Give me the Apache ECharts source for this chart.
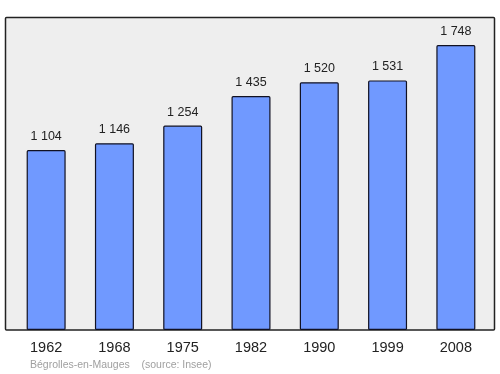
<!DOCTYPE html>
<html><head><meta charset="utf-8">
<script src="https://cdn.jsdelivr.net/npm/echarts@6/dist/echarts.min.js"></script>
<style>html,body{margin:0;padding:0;background:#fff}#c{width:500px;height:374px}</style>
</head><body><div id="c"></div>
<script>
var years = ['1962','1968','1975','1982','1990','1999','2008'];
var population = [1104,1146,1254,1435,1520,1531,1748];
var footer = 'Bégrolles-en-Mauges    (source: Insee)';

var chart = echarts.init(document.getElementById('c'), null, {renderer:'canvas'});
function fmt(v){ return String(v).replace(/\B(?=(\d{3})+(?!\d))/g, ' '); }
chart.setOption({
  animation:false,
  graphic:[
    {type:'rect', z:-10, shape:{x:5.5,y:17.5,width:489,height:312.5,r:1}, style:{fill:'#eeeeee',stroke:'#222',lineWidth:1.5}},
    {type:'text', left:30, top:360, style:{text:footer, fill:'#a0a0a0', font:'10.5px "Liberation Sans", Arial, sans-serif'}}
  ],
  grid:{left:12,right:10,top:17,bottom:44},
  xAxis:{type:'category',data:years,
    axisLine:{show:false},axisTick:{show:false},
    axisLabel:{margin:10,fontSize:14.5,color:'#222',fontFamily:'"Liberation Sans", Arial, sans-serif'}},
  yAxis:{type:'value',min:0,max:1920,show:false,splitLine:{show:false}},
  series:[{type:'bar',data:population,barWidth:39,
    itemStyle:{color:'#7099ff',borderColor:'#111122',borderWidth:1.2,borderRadius:1},
    label:{show:true,position:'top',distance:7,fontSize:12.5,color:'#222',
      fontFamily:'"Liberation Sans", Arial, sans-serif',formatter:function(p){return fmt(p.value);}}}]
});
</script></body></html>
